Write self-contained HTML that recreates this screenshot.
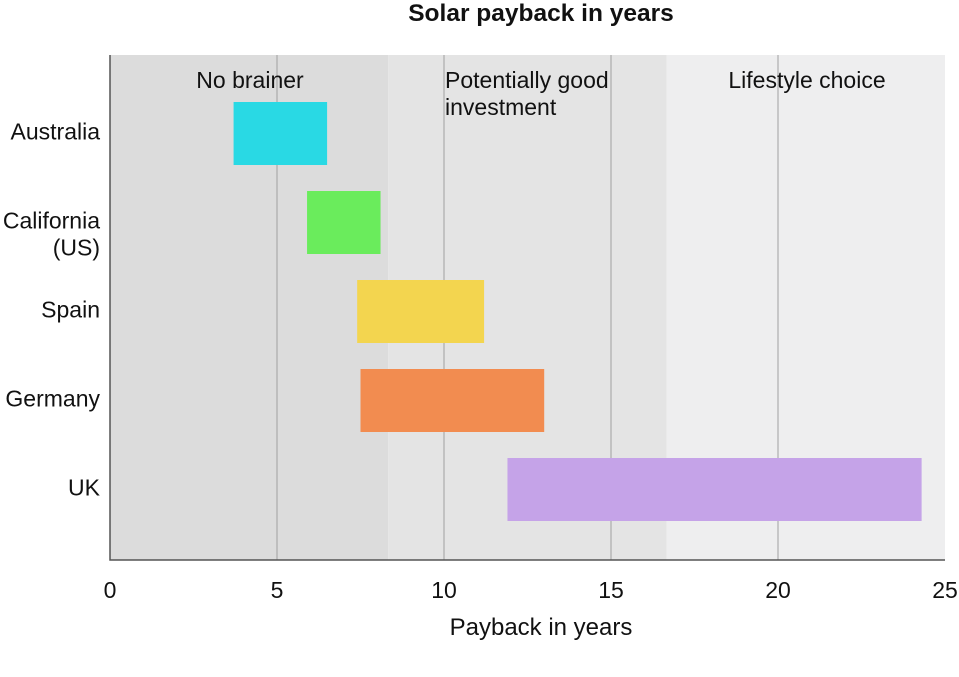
<!DOCTYPE html>
<html><head><meta charset="utf-8"><style>
body{margin:0;background:#fff;}
svg text{font-family:"Liberation Sans",sans-serif;fill:#111;}
</style></head><body>
<svg id="chart" width="959" height="672" viewBox="0 0 959 672" xmlns="http://www.w3.org/2000/svg"></svg>
<script>
const categories=["Australia","California (US)","Spain","Germany","UK"];
const startVals=[3.7,5.9,7.4,7.5,11.9];
const endVals=[6.5,8.1,11.2,13.0,24.3];
const colors=["#29d9e4","#6aec5c","#f3d54f","#f28c50","#c5a3e8"];
const bandStarts=[0,8.33,16.67];
const bandEnds=[8.33,16.67,25];
const bandLabels=[["No brainer"],["Potentially good","investment"],["Lifestyle choice"]];
const bandFills=["#dcdcdc","#e4e4e4","#eeeeef"];
const xTicks=[0,5,10,15,20,25];

const NS="http://www.w3.org/2000/svg";
const svg=document.getElementById("chart");
const L=110,R=945,T=55,B=560;
const x=v=>L+(v-0)/(25-0)*(R-L);
const yc=i=>133.5+89*i;
const barH=63;
const FS=23;
function mk(tag,attrs,parent){const e=document.createElementNS(NS,tag);for(const k in attrs)e.setAttribute(k,attrs[k]);(parent||svg).appendChild(e);return e;}

bandStarts.forEach((s,i)=>{
  const r=mk("rect",{x:x(s),y:T,width:x(bandEnds[i])-x(s),height:B-T,fill:bandFills[i]});
  
  
});
xTicks.slice(1,-1).forEach(v=>{
  const g=mk("line",{x1:x(v),x2:x(v),y1:T,y2:B,stroke:"#a0a0a0","stroke-width":1});
  
  
});
const bandLabelX=[250,445,807];
const anchors=["middle","start","middle"];
bandLabels.forEach((lines,i)=>{
  lines.forEach((ln,j)=>{
    const t=mk("text",{x:bandLabelX[i],y:88+j*27,"font-size":FS,"text-anchor":anchors[i]});
    t.textContent=ln;
    
    
  });
});
categories.forEach((c,i)=>{
  const r=mk("rect",{x:x(startVals[i]),y:yc(i)-barH/2,width:x(endVals[i])-x(startVals[i]),height:barH,fill:colors[i]});
  
  
  const parts=c==="California (US)"?["California","(US)"]:[c];
  parts.forEach((p,j)=>{
    const off=parts.length>1?(j*27+6):6;
    const t=mk("text",{x:100,y:yc(i)+off,"font-size":FS,"text-anchor":"end"});
    t.textContent=p;
    
    
  });
});
const ax=mk("path",{d:`M${L} ${T} V${B} H${R}`,fill:"none",stroke:"#555","stroke-width":1.5});


xTicks.forEach(v=>{
  const t=mk("text",{x:x(v),y:598,"font-size":FS,"text-anchor":"middle"});
  t.textContent=v;
  
  
});
const xt=mk("text",{x:541,y:635,"font-size":24,"text-anchor":"middle"});
xt.textContent="Payback in years";


const tt=mk("text",{x:541,y:21,"font-size":24.5,"font-weight":"bold","text-anchor":"middle"});
tt.textContent="Solar payback in years";


</script>
</body></html>
